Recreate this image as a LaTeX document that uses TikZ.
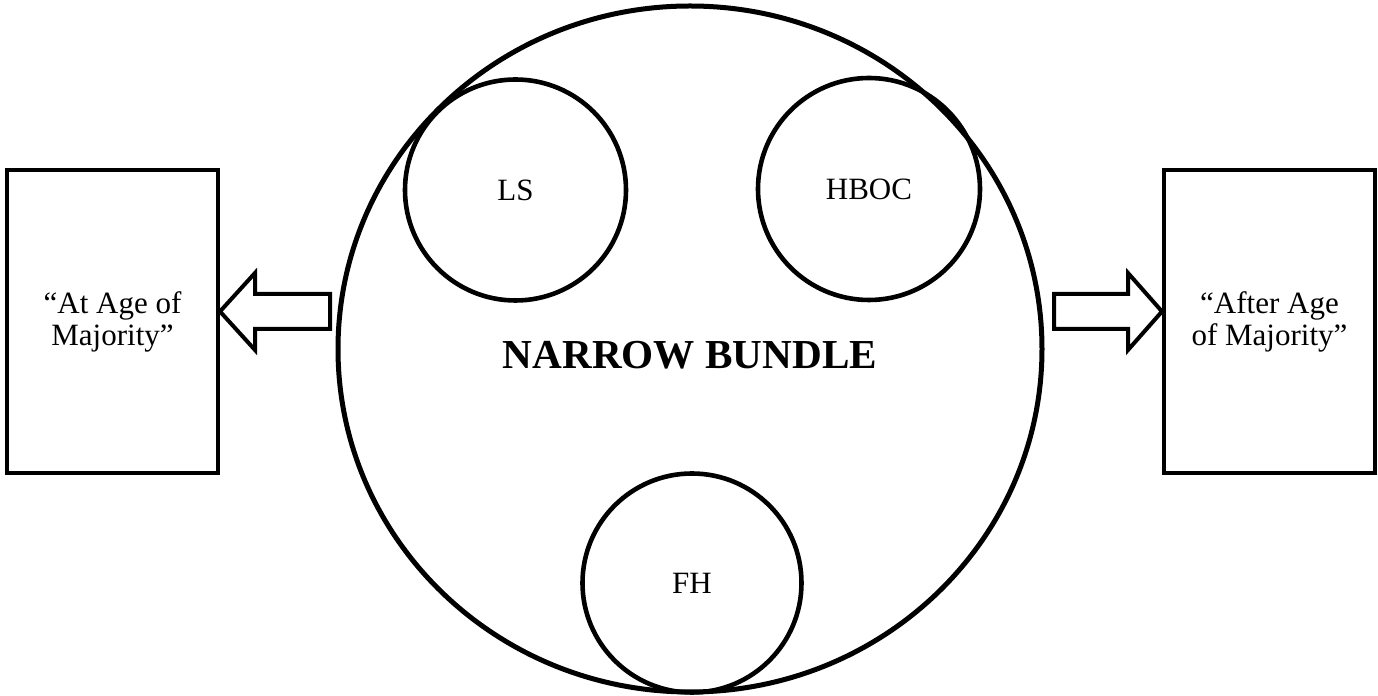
\documentclass[tikz,border=0pt]{standalone}
\usepackage{fontspec}
\setmainfont{Liberation Serif}
\usetikzlibrary{shapes.geometric}

\begin{document}
\begin{tikzpicture}[x=0.5pt, y=0.5pt,
    bubble/.style={draw, circle, line width=2.3pt, inner sep=0pt,
        font=\fontsize{15.5}{16}\selectfont},
    agebox/.style={draw, rectangle, line width=2pt, inner sep=0pt,
        minimum width=105.5pt, minimum height=151.5pt, align=center,
        font=\fontsize{15.5}{16}\selectfont},
    blockarrow/.style={draw, line width=2pt, line join=miter}]

    \useasboundingbox (0,0) rectangle (1378,696);

    % ;- the bundle (big outline) ;-
    \node[draw, ellipse, line width=2.5pt, inner sep=0pt,
        minimum width=352pt, minimum height=343pt] (bundle) at (690,347) {};
    \node[font=\fontsize{20.6}{24}\selectfont\bfseries] (title) at (690,341) {NARROW BUNDLE};

    % conditions inside the bundle
    \node[bubble, minimum size=110.5pt] (ls) at (515.5,506) {LS};
    \node[bubble, minimum size=111pt] (hboc) at (869,507) {HBOC};
    \node[bubble, minimum size=109.5pt] (fh) at (692,113) {FH};

    % ;- age boxes ;-
    \node[agebox] (atage) at (112.5,374.5) {“At Age of\\Majority”};
    \node[agebox] (afterage) at (1269.5,374.5) {“After Age\\of Majority”};

    % hollow arrows out of the bundle
    \draw[blockarrow] (220,384.5) -- (255,423) -- (255,402) -- (330,402)
        -- (330,367) -- (255,367) -- (255,346) -- cycle;
    \draw[blockarrow] (1162,384.5) -- (1128,423) -- (1128,402) -- (1054,402)
        -- (1054,367) -- (1128,367) -- (1128,346) -- cycle;

\end{tikzpicture}
\end{document}
